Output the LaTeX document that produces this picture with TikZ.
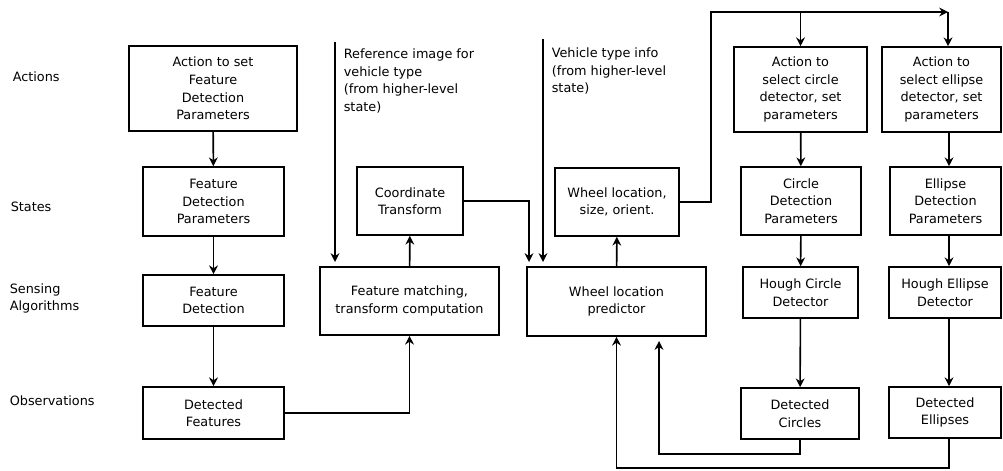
\documentclass[tikz,border=0pt]{standalone}
\usepackage{fontspec}
\setmainfont{DejaVu Sans}
\usetikzlibrary{arrows.meta}

% one unit of the drawing grid
\newlength\px
\setlength\px{0.02cm}

\begin{document}
\begin{tikzpicture}[x=0.02cm, y=-0.02cm, line width=0.9pt,
    >={Stealth[length=5pt,width=5pt]},
    font=\fontsize{7.3}{10}\selectfont,
    box/.style={draw, align=center, inner sep=0pt},
    lbl/.style={anchor=west, align=left, inner sep=0pt},
    info/.style={anchor=north west, align=left, inner sep=0pt}]
  \useasboundingbox (0,0) rectangle (1003,470);

  % row labels on the left
  \node[lbl] (lact) at (12,77) {Actions};
  \node[lbl] (lsta) at (10,207) {States};
  \node[lbl] (lsen) at (9,298.5) {Sensing\\Algorithms};
  \node[lbl] (lobs) at (9,401) {Observations};

  % feature detection column
  \node[box, minimum width=168\px, minimum height=85\px] (act1) at (213,88.5)
    {Action to set\\Feature\\Detection\\Parameters};
  \node[box, minimum width=141\px, minimum height=69\px] (fdp) at (213.5,201.5)
    {Feature\\Detection\\Parameters};
  \node[box, minimum width=141\px, minimum height=51\px] (fd) at (213.5,300.5)
    {Feature\\Detection};
  \node[box, minimum width=141\px, minimum height=52\px] (dfeat) at (213.5,413)
    {Detected\\Features};

  % matching and transform
  \node[box, minimum width=106\px, minimum height=68\px] (ct) at (410,201)
    {Coordinate\\Transform};
  \node[box, minimum width=179\px, minimum height=68\px] (fm) at (409.5,301)
    {Feature matching,\\transform computation};

  % wheel prediction
  \node[box, minimum width=124\px, minimum height=68\px] (wl) at (617,202)
    {Wheel location,\\size, orient.};
  \node[box, minimum width=179\px, minimum height=69\px] (wp) at (616.5,301.5)
    {Wheel location\\predictor};

  % circle detector column
  \node[box, minimum width=133\px, minimum height=85\px] (acirc) at (800.5,89.5)
    {Action to\\select circle\\detector, set\\parameters};
  \node[box, minimum width=120\px, minimum height=68\px] (cdp) at (801,201)
    {Circle\\Detection\\Parameters};
  \node[box, minimum width=115\px, minimum height=51\px] (hc) at (800.5,292.5)
    {Hough Circle\\Detector};
  \node[box, minimum width=118\px, minimum height=51\px] (dc) at (800,413.5)
    {Detected\\Circles};

  % ellipse detector column
  \node[box, minimum width=119\px, minimum height=85\px] (aell) at (941.5,89.5)
    {Action to\\select ellipse\\detector, set\\parameters};
  \node[box, minimum width=111\px, minimum height=68\px] (edp) at (945.5,201)
    {Ellipse\\Detection\\Parameters};
  \node[box, minimum width=112\px, minimum height=51\px] (he) at (945,292.5)
    {Hough Ellipse\\Detector};
  \node[box, minimum width=112\px, minimum height=51\px] (de) at (945,412.5)
    {Detected\\Ellipses};

  % inputs from higher-level state
  \node[info] (refinfo) at (343,48)
    {Reference image for\\vehicle type\\(from higher-level\\state)};
  \node[info] (vehinfo) at (551,47)
    {Vehicle type info\\(from higher-level\\state)};

  % free ends of the connectors
  \coordinate (reftop) at (335,42);
  \coordinate (refend) at (335,262);
  \coordinate (vehtop) at (543,39);
  \coordinate (vehend) at (543,262);
  \coordinate (ctend) at (529,262);
  \coordinate (bus1) at (711,12);
  \coordinate (bus2) at (948,12);
  \coordinate (ecol) at (949,0);
  \coordinate (dcend) at (659,341);

  % feature detection chain
  \draw[->] (act1) -- (fdp);
  \draw[->] (fdp) -- (fd);
  \draw[->] (fd) -- (dfeat);
  \draw[->] (dfeat.east) -| (fm.south);
  \draw[->] (fm) -- (ct);
  \draw[->] (reftop) -- (refend);
  \draw[->] (ct.east) -| (ctend);

  % wheel prediction
  \draw[->] (vehtop) -- (vehend);
  \draw[->] (wp) -- (wl);
  \draw[->] (wl.east) -| (bus1) -- (bus2);
  \draw[->] (acirc.north |- bus1) -- (acirc.north);
  \draw[->] (bus2) -- (bus2 |- aell.north);

  % circle and ellipse detectors
  \draw[->] (acirc) -- (cdp);
  \draw[->] (cdp) -- (hc);
  \draw[->] (hc) -- (dc);
  \draw[->] (ecol |- aell.south) -- (ecol |- edp.north);
  \draw[->] (ecol |- edp.south) -- (ecol |- he.north);
  \draw[->] (ecol |- he.south) -- (ecol |- de.north);

  % detections fed back to the predictor
  \draw[->] (dc.south) -- ++(0,14) -| (dcend);
  \draw[->] (ecol |- de.south) -- ++(0,29) -| (wp.south);
\end{tikzpicture}
\end{document}
